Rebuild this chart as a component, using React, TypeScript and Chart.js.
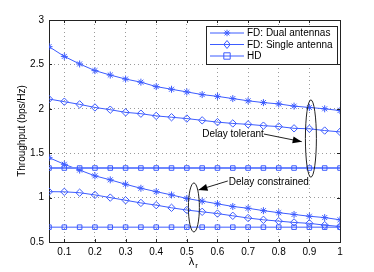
import { useEffect, useRef } from "react";
import { Chart, registerables } from "chart.js";

Chart.register(...registerables);

const lambdaR = [0.05, 0.1, 0.15, 0.2, 0.25, 0.3, 0.35, 0.4, 0.45, 0.5, 0.55, 0.6, 0.65, 0.7, 0.75, 0.8, 0.85, 0.9, 0.95, 1.0];

const dualTolerant = [2.7, 2.59, 2.505, 2.43, 2.38, 2.335, 2.3, 2.25, 2.22, 2.19, 2.16, 2.14, 2.115, 2.09, 2.07, 2.055, 2.03, 2.015, 2.0, 1.98];
const singleTolerant = [2.11, 2.08, 2.05, 2.015, 1.99, 1.96, 1.945, 1.92, 1.905, 1.89, 1.87, 1.85, 1.835, 1.825, 1.81, 1.8, 1.78, 1.775, 1.755, 1.74];
const hdTolerant = [1.333, 1.333, 1.333, 1.333, 1.333, 1.333, 1.333, 1.333, 1.333, 1.333, 1.333, 1.333, 1.333, 1.333, 1.333, 1.333, 1.333, 1.333, 1.333, 1.333];
const dualConstrained = [1.45, 1.375, 1.31, 1.245, 1.2, 1.15, 1.105, 1.067, 1.03, 0.99, 0.96, 0.93, 0.9, 0.88, 0.853, 0.83, 0.81, 0.79, 0.775, 0.75];
const singleConstrained = [1.067, 1.065, 1.055, 1.03, 1.0, 0.97, 0.94, 0.915, 0.885, 0.86, 0.84, 0.82, 0.795, 0.77, 0.75, 0.735, 0.72, 0.71, 0.69, 0.675];
const hdConstrained = [0.667, 0.667, 0.667, 0.667, 0.667, 0.667, 0.667, 0.667, 0.667, 0.667, 0.667, 0.667, 0.667, 0.667, 0.667, 0.667, 0.667, 0.667, 0.667, 0.667];

const xTicks = [0.1, 0.2, 0.3, 0.4, 0.5, 0.6, 0.7, 0.8, 0.9, 1.0];
const legendLabels = ["FD: Dual antennas", "FD: Single antenna", "HD"];
const markerKinds = ["star", "diamond", "square"];

const BLUE = "#3d5cff";
const FONT = "'Liberation Sans', Arial, sans-serif";

function toPts(ys: number[]) {
  return ys.map((y, i) => ({ x: lambdaR[i], y }));
}

function drawMarker(ctx: CanvasRenderingContext2D, kind: string, x: number, y: number) {
  ctx.save();
  ctx.strokeStyle = BLUE;
  ctx.lineWidth = 1;
  ctx.beginPath();
  if (kind === "star") {
    const r = 3.2;
    ctx.moveTo(x - r, y); ctx.lineTo(x + r, y);
    ctx.moveTo(x, y - r); ctx.lineTo(x, y + r);
    const d = r * 0.75;
    ctx.moveTo(x - d, y - d); ctx.lineTo(x + d, y + d);
    ctx.moveTo(x - d, y + d); ctx.lineTo(x + d, y - d);
  } else if (kind === "diamond") {
    const r = 4;
    ctx.moveTo(x, y - r); ctx.lineTo(x + r * 0.8, y); ctx.lineTo(x, y + r); ctx.lineTo(x - r * 0.8, y); ctx.closePath();
  } else {
    const r = 3.2;
    ctx.rect(x - r, y - r, 2 * r, 2 * r);
  }
  ctx.stroke();
  ctx.restore();
}

const decorPlugin = {
  id: "decor",
  afterDraw(chart: any) {
    const ctx: CanvasRenderingContext2D = chart.ctx;
    const { left, right, top, bottom } = chart.chartArea;
    const xs = chart.scales.x;
    const ys = chart.scales.y;
    ctx.save();

    // box top/right and inward ticks
    ctx.strokeStyle = "#222";
    ctx.lineWidth = 1;
    ctx.beginPath();
    ctx.moveTo(left + 0.5, top + 0.5); ctx.lineTo(right + 0.5, top + 0.5); ctx.lineTo(right + 0.5, bottom + 0.5);
    xTicks.forEach((t) => {
      const px = Math.round(xs.getPixelForValue(t)) + 0.5;
      ctx.moveTo(px, bottom); ctx.lineTo(px, bottom - 3);
      ctx.moveTo(px, top); ctx.lineTo(px, top + 3);
    });
    ys.ticks.forEach((t: any) => {
      const py = Math.round(ys.getPixelForValue(t.value)) + 0.5;
      ctx.moveTo(left, py); ctx.lineTo(left + 3, py);
      ctx.moveTo(right, py); ctx.lineTo(right - 3, py);
    });
    ctx.stroke();

    // x axis title: lambda with subscript r
    ctx.fillStyle = "#000";
    ctx.textBaseline = "middle";
    ctx.textAlign = "center";
    ctx.font = "11px " + FONT;
    const cx = (left + right) / 2;
    ctx.fillText("λ", cx - 3, bottom + 20);
    ctx.font = "8px " + FONT;
    ctx.fillText("r", cx + 2, bottom + 24);

    // annotations: ellipses
    ctx.strokeStyle = "#222";
    ctx.lineWidth = 1;
    const ell = (xv: number, yv: number, ry: number) => {
      const px = xs.getPixelForValue(xv);
      const py = ys.getPixelForValue(yv);
      const rpy = Math.abs(ys.getPixelForValue(yv + ry) - py);
      ctx.beginPath();
      ctx.ellipse(px, py, 5.5, rpy, 0, 0, Math.PI * 2);
      ctx.stroke();
    };
    ell(0.905, 1.665, 0.435);
    ell(0.523, 0.889, 0.276);

    const arrow = (x1: number, y1: number, x2: number, y2: number) => {
      const a = Math.atan2(y2 - y1, x2 - x1);
      ctx.strokeStyle = "#222";
      ctx.beginPath();
      ctx.moveTo(x1, y1); ctx.lineTo(x2, y2);
      ctx.stroke();
      const L = 9, W = 3.5;
      ctx.fillStyle = "#000";
      ctx.beginPath();
      ctx.moveTo(x2, y2);
      ctx.lineTo(x2 - L * Math.cos(a) + W * Math.sin(a), y2 - L * Math.sin(a) - W * Math.cos(a));
      ctx.lineTo(x2 - L * Math.cos(a) - W * Math.sin(a), y2 - L * Math.sin(a) + W * Math.cos(a));
      ctx.closePath();
      ctx.fill();
    };

    ctx.font = "10px " + FONT;
    ctx.fillStyle = "#000";
    ctx.textAlign = "left";
    ctx.textBaseline = "middle";
    const t1x = xs.getPixelForValue(0.55);
    const t1y = ys.getPixelForValue(1.716);
    ctx.fillText("Delay tolerant", t1x, t1y);
    const w1 = ctx.measureText("Delay tolerant").width;
    arrow(t1x + w1, t1y, xs.getPixelForValue(0.875), ys.getPixelForValue(1.63));

    const t2x = xs.getPixelForValue(0.637);
    const t2y = ys.getPixelForValue(1.176);
    ctx.fillText("Delay constrained", t2x, t2y);
    arrow(t2x - 1, t2y - 1, xs.getPixelForValue(0.538), ys.getPixelForValue(1.086));

    // legend
    const lw = 131, lh = 38;
    const lx = right - 3 - lw, ly = top + 6;
    ctx.fillStyle = "#fff";
    ctx.fillRect(lx, ly, lw, lh);
    ctx.strokeStyle = "#222";
    ctx.lineWidth = 1;
    ctx.strokeRect(lx + 0.5, ly + 0.5, lw, lh);
    legendLabels.forEach((lab, i) => {
      const yy = ly + 7 + i * 11.5;
      ctx.strokeStyle = BLUE;
      ctx.beginPath();
      ctx.moveTo(lx + 4, yy); ctx.lineTo(lx + 38, yy);
      ctx.stroke();
      drawMarker(ctx, markerKinds[i], lx + 21, yy);
      ctx.fillStyle = "#000";
      ctx.font = "10px " + FONT;
      ctx.textAlign = "left";
      ctx.fillText(lab, lx + 41, yy + 0.5);
    });

    ctx.restore();
  },
};

function ds(label: string, ys: number[], style: string, radius: number, width = 1, color = BLUE) {
  return {
    label,
    data: toPts(ys),
    borderColor: color,
    backgroundColor: "rgba(0,0,0,0)",
    pointBorderColor: BLUE,
    pointBackgroundColor: "rgba(0,0,0,0)",
    pointStyle: style,
    pointRadius: radius,
    pointBorderWidth: 1,
    borderWidth: width,
    tension: 0,
  };
}

export default function App() {
  const ref = useRef<HTMLCanvasElement | null>(null);
  useEffect(() => {
    document.body.style.margin = "0";
    const canvas = ref.current!;
    const chart = new Chart(canvas, {
      type: "line",
      data: {
        datasets: [
          ds(legendLabels[0], dualTolerant, "star", 3.5),
          ds(legendLabels[1], singleTolerant, "rectRot", 3.7),
          ds(legendLabels[2], hdTolerant, "rect", 3.2, 2, "#6f88ff"),
          ds(legendLabels[0] + " ", dualConstrained, "star", 3.5),
          ds(legendLabels[1] + " ", singleConstrained, "rectRot", 3.7),
          ds(legendLabels[2] + " ", hdConstrained, "rect", 3.2),
        ] as any,
      },
      options: {
        animation: false,
        responsive: false,
        devicePixelRatio: 1,
        layout: { padding: { top: 20, right: 34, left: 0, bottom: 0 } },
        plugins: { legend: { display: false }, tooltip: { enabled: false } },
        scales: {
          x: {
            type: "linear",
            min: 0.05,
            max: 1,
            afterBuildTicks: (s: any) => {
              s.ticks = xTicks.map((v) => ({ value: v }));
            },
            afterFit: (s: any) => {
              s.height = 30;
            },
            ticks: {
              color: "#000",
              font: { family: FONT, size: 10 },
              padding: 4,
              maxRotation: 0,
              autoSkip: false,
              callback: (v: any) => String(Number(v)),
            },
            grid: { color: "#9a9a9a", lineWidth: 1, drawTicks: false },
            border: { display: true, color: "#222", dash: [1, 3] },
          },
          y: {
            type: "linear",
            min: 0.5,
            max: 3,
            afterFit: (s: any) => {
              s.width = 49;
            },
            ticks: {
              stepSize: 0.5,
              color: "#000",
              font: { family: FONT, size: 10 },
              padding: 5,
              callback: (v: any) => String(Number(v)),
            },
            grid: { color: "#9a9a9a", lineWidth: 1, drawTicks: false },
            border: { display: true, color: "#222", dash: [1, 3] },
            title: {
              display: true,
              text: "Throughput (bps/Hz)",
              color: "#000",
              font: { family: FONT, size: 10 },
              padding: { top: 16, bottom: 0 },
            },
          },
        },
      },
      plugins: [decorPlugin],
    } as any);
    return () => chart.destroy();
  }, []);
  return (
    <div style={{ width: 374, height: 272 }}>
      <canvas ref={ref} width={374} height={272} style={{ display: "block" }} />
    </div>
  );
}
